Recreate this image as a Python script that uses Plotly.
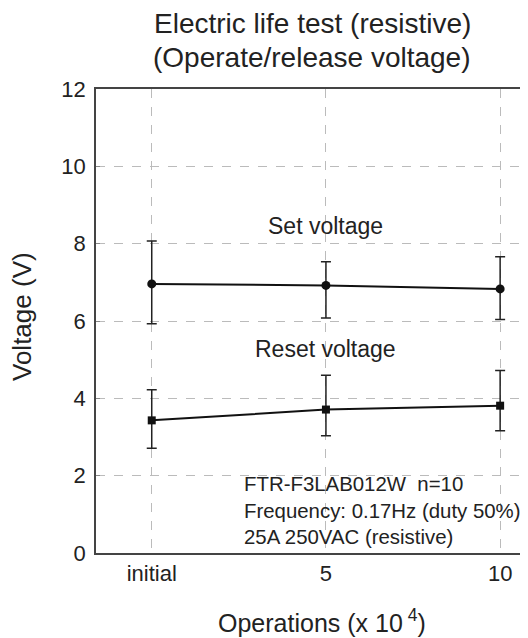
import plotly.graph_objects as go

categories = ["initial", "5", "10"]
set_mean = [6.96, 6.92, 6.83]
set_max = [8.07, 7.53, 7.66]
set_min = [5.93, 6.08, 6.04]
reset_mean = [3.43, 3.71, 3.81]
reset_max = [4.22, 4.60, 4.72]
reset_min = [2.71, 3.03, 3.16]
y_ticks = [0, 2, 4, 6, 8, 10, 12]

FONT = "Liberation Sans, Arial, sans-serif"
TXT = "#222"

def err(mean, hi, lo):
    return dict(type="data", symmetric=False,
                array=[h - m for h, m in zip(hi, mean)],
                arrayminus=[m - l for m, l in zip(mean, lo)],
                color="#222", thickness=1.5, width=5)

fig = go.Figure()
fig.add_trace(go.Scatter(x=categories, y=set_mean, mode="lines+markers",
                         line=dict(color="#111", width=2),
                         marker=dict(symbol="circle", size=9, color="#111"),
                         error_y=err(set_mean, set_max, set_min), showlegend=False))
fig.add_trace(go.Scatter(x=categories, y=reset_mean, mode="lines+markers",
                         line=dict(color="#111", width=2),
                         marker=dict(symbol="square", size=8, color="#111"),
                         error_y=err(reset_mean, reset_max, reset_min), showlegend=False))

# series labels
fig.add_annotation(x=1, y=8.45, text="Set voltage", showarrow=False,
                   font=dict(size=23, color=TXT, family=FONT))
fig.add_annotation(x=1, y=5.28, text="Reset voltage", showarrow=False,
                   font=dict(size=23, color=TXT, family=FONT))
# info box
fig.add_annotation(x=0.52, y=0.08, xanchor="left", yanchor="bottom", align="left",
                   text="FTR-F3LAB012W  n=10<br>Frequency: 0.17Hz (duty 50%)<br>25A 250VAC (resistive)",
                   showarrow=False,
                   font=dict(size=20.4, color=TXT, family=FONT))

# title (two lines placed separately)
fig.add_annotation(xref="paper", yref="paper", x=(312 - 96) / 432, y=(553 - 24) / 464,
                   text="Electric life test (resistive)", showarrow=False,
                   xanchor="center", yanchor="middle",
                   font=dict(size=28, color=TXT, family=FONT))
fig.add_annotation(xref="paper", yref="paper", x=(312 - 96) / 432, y=(553 - 57) / 464,
                   text="(Operate/release voltage)", showarrow=False,
                   xanchor="center", yanchor="middle",
                   font=dict(size=28, color=TXT, family=FONT))
# axis titles
fig.add_annotation(xref="paper", yref="paper", x=(322 - 96) / 432, y=-(621 - 553) / 464,
                   text="Operations (x 10<sup> 4</sup>)", showarrow=False,
                   xanchor="center", yanchor="middle",
                   font=dict(size=25, color=TXT, family=FONT))
fig.add_annotation(xref="paper", yref="paper", x=-(96 - 22) / 432, y=(553 - 317) / 464,
                   text="Voltage (V)", showarrow=False, textangle=-90,
                   xanchor="center", yanchor="middle",
                   font=dict(size=26, color=TXT, family=FONT))

# the page adds an 8px body margin, so the figure is 8px smaller and offset
fig.update_layout(
    width=520, height=630,
    margin=dict(l=88, r=0, t=81, b=85),
    paper_bgcolor="white", plot_bgcolor="white",
    font=dict(family=FONT, color=TXT),
    xaxis=dict(type="category", range=[-0.32, 2.16],
               showline=True, mirror=True, linecolor="#444", linewidth=1.5,
               showgrid=True, gridcolor="#bbb", griddash="dash", gridwidth=1,
               ticks="", tickfont=dict(size=22, color=TXT)),
    yaxis=dict(range=[0, 12], tickvals=y_ticks,
               showline=True, mirror=False, linecolor="#444", linewidth=1.5,
               showgrid=True, gridcolor="#bbb", griddash="dash", gridwidth=1,
               zeroline=False,
               ticks="inside", ticklen=4, tickcolor="#888",
               ticklabelstandoff=4,
               tickfont=dict(size=22, color=TXT)),
)

fig.write_html("out.html")
